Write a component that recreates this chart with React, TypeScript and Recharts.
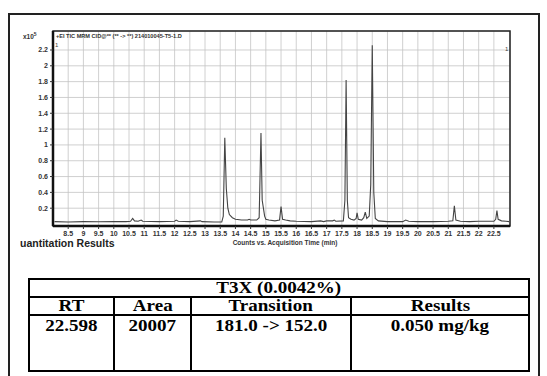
import { CartesianGrid, Line, LineChart, ReferenceArea, XAxis, YAxis } from "recharts";

// retention time (min) and counts (x10^5)
const times = [
  8.05, 8.5, 9.0, 9.5, 10.0, 10.4, 10.55, 10.62, 10.68, 10.8, 10.9, 10.95, 11.5, 12.0, 12.05,
  12.12, 12.5, 12.85, 12.9, 13.3, 13.55, 13.6, 13.65, 13.7, 13.75, 13.8, 13.9, 14.0, 14.2, 14.4,
  14.45, 14.5, 14.7, 14.78, 14.84, 14.88, 14.92, 14.96, 15.0, 15.1, 15.3, 15.45, 15.5, 15.55,
  15.65, 15.8, 16.0, 16.5, 16.8, 16.9, 17.0, 17.2, 17.25, 17.3, 17.55, 17.6, 17.64, 17.68, 17.72,
  17.8, 17.9, 17.97, 18.0, 18.04, 18.15, 18.22, 18.27, 18.32, 18.4, 18.45, 18.5, 18.55, 18.6,
  18.7, 19.0, 19.5, 19.6, 19.7, 20.0, 20.5, 21.0, 21.15, 21.2, 21.25, 21.4, 21.7, 22.0, 22.5,
  22.56, 22.6, 22.64, 22.75, 22.9, 23.0,
];
const counts = [
  0.03, 0.025, 0.03, 0.028, 0.03, 0.03, 0.035, 0.07, 0.04, 0.035, 0.05, 0.035, 0.03, 0.035, 0.05,
  0.035, 0.03, 0.04, 0.03, 0.025, 0.025, 0.1, 1.09, 0.45, 0.2, 0.12, 0.08, 0.06, 0.05, 0.05,
  0.06, 0.05, 0.05, 0.08, 1.15, 0.3, 0.2, 0.1, 0.06, 0.05, 0.04, 0.05, 0.22, 0.06,
  0.05, 0.04, 0.035, 0.03, 0.04, 0.03, 0.04, 0.04, 0.05, 0.035, 0.04, 0.3, 1.82, 0.3, 0.08,
  0.06, 0.05, 0.07, 0.14, 0.06, 0.05, 0.08, 0.15, 0.07, 0.1, 0.5, 2.26, 0.4, 0.07,
  0.04, 0.03, 0.03, 0.05, 0.035, 0.03, 0.03, 0.035, 0.04, 0.23, 0.05, 0.035, 0.03, 0.035, 0.035,
  0.06, 0.17, 0.06, 0.04, 0.035, 0.03,
];

const xTicks = [
  8.5, 9, 9.5, 10, 10.5, 11, 11.5, 12, 12.5, 13, 13.5, 14, 14.5, 15, 15.5, 16, 16.5, 17, 17.5,
  18, 18.5, 19, 19.5, 20, 20.5, 21, 21.5, 22, 22.5,
];
const yTicks = [0.2, 0.4, 0.6, 0.8, 1, 1.2, 1.4, 1.6, 1.8, 2, 2.2];

const tableTitle = "T3X (0.0042%)";
const tableHeaders = ["RT", "Area", "Transition", "Results"];
const tableRow = ["22.598", "20007", "181.0 -> 152.0", "0.050 mg/kg"];
const colWidths = [85, 77, 160, 178];

const data = times.map((t, i) => ({ t, v: counts[i] }));

const narrow = "'Liberation Sans Narrow', 'Liberation Sans', Arial, sans-serif";
const tickStyle = { fontSize: 7, fontWeight: 700, fill: "#333", fontFamily: narrow };

const cell: React.CSSProperties = {
  border: "2px solid #000",
  textAlign: "center",
  padding: 0,
};

// the scan is a little wider than tall, so stretch table text the same way
const Wide = ({ children }: { children: React.ReactNode }) => (
  <span style={{ display: "inline-block", transform: "scaleX(1.12)", whiteSpace: "nowrap" }}>{children}</span>
);

export default function App() {
  return (
    <div style={{ position: "absolute", left: 0, top: 0, width: 547, height: 376, background: "#fff", overflow: "hidden" }}>
      <div style={{ position: "absolute", left: 8, top: 13, width: 528, height: 400, border: "2px solid #222" }} />
      <div style={{ position: "absolute", left: 0, top: 0 }}>
        <LineChart width={547} height={260} data={data} margin={{ top: 31, right: 37, bottom: 14, left: 0 }}>
          <CartesianGrid stroke="#c4c4c4" strokeWidth={0.8} />
          <XAxis
            dataKey="t"
            type="number"
            domain={[8.0, 23.03]}
            ticks={xTicks}
            allowDataOverflow
            height={20}
            tick={tickStyle}
            tickSize={3}
            tickLine={{ stroke: "#333" }}
            axisLine={{ stroke: "#111", strokeWidth: 2.5 }}
            interval={0}
          />
          <YAxis
            type="number"
            domain={[-0.025, 2.44]}
            ticks={yTicks}
            allowDataOverflow
            width={53}
            tick={tickStyle}
            tickSize={3}
            tickLine={{ stroke: "#333" }}
            axisLine={{ stroke: "#111", strokeWidth: 2.5 }}
            interval={0}
          />
          <ReferenceArea x1={8.0} x2={23.03} y1={-0.025} y2={2.44} fill="none" stroke="#222" strokeWidth={1.5} />
          <Line dataKey="v" stroke="#444" strokeWidth={1.1} dot={false} isAnimationActive={false} type="linear" />
        </LineChart>
      </div>
      <div style={{ position: "absolute", left: 23, top: 31, fontSize: 6.5, fontWeight: 700, fontFamily: narrow, color: "#333" }}>
        x10<sup style={{ fontSize: 5 }}>5</sup>
      </div>
      <div style={{ position: "absolute", left: 56, top: 33, fontSize: 5.6, fontWeight: 700, fontFamily: narrow, color: "#333", whiteSpace: "nowrap" }}>
        +EI TIC MRM CID@** (** -&gt; **) 214010045-T5-1.D
      </div>
      <div style={{ position: "absolute", left: 55, top: 42, fontSize: 6, fontFamily: narrow, color: "#444" }}>1</div>
      <div style={{ position: "absolute", left: 505, top: 46, fontSize: 6, fontFamily: narrow, color: "#444" }}>1</div>
      <div style={{ position: "absolute", left: 20, top: 237, fontSize: 10.5, fontWeight: 900, fontFamily: "'Liberation Sans', Arial, sans-serif", color: "#222", whiteSpace: "nowrap" }}>
        uantitation Results
      </div>
      <div style={{ position: "absolute", left: 218, top: 239, width: 134, textAlign: "center", fontSize: 6.5, fontWeight: 700, fontFamily: narrow, color: "#333", whiteSpace: "nowrap" }}>
        Counts vs. Acquisition Time (min)
      </div>
      <table
        style={{
          position: "absolute",
          left: 28,
          top: 278,
          width: 500,
          borderCollapse: "collapse",
          tableLayout: "fixed",
          fontFamily: "'Liberation Serif', 'Times New Roman', serif",
          fontWeight: 700,
          fontSize: 17,
          color: "#000",
        }}
      >
        <colgroup>
          {colWidths.map((w, i) => (
            <col key={i} style={{ width: w }} />
          ))}
        </colgroup>
        <tbody>
          <tr style={{ height: 18 }}>
            <td colSpan={4} style={{ ...cell, lineHeight: "16px" }}>
              <Wide>{tableTitle}</Wide>
            </td>
          </tr>
          <tr style={{ height: 18 }}>
            {tableHeaders.map((h) => (
              <td key={h} style={{ ...cell, lineHeight: "16px" }}>
                <Wide>{h}</Wide>
              </td>
            ))}
          </tr>
          <tr style={{ height: 56 }}>
            {tableRow.map((c) => (
              <td key={c} style={{ ...cell, verticalAlign: "top", lineHeight: "19px" }}>
                <Wide>{c}</Wide>
              </td>
            ))}
          </tr>
        </tbody>
      </table>
    </div>
  );
}
